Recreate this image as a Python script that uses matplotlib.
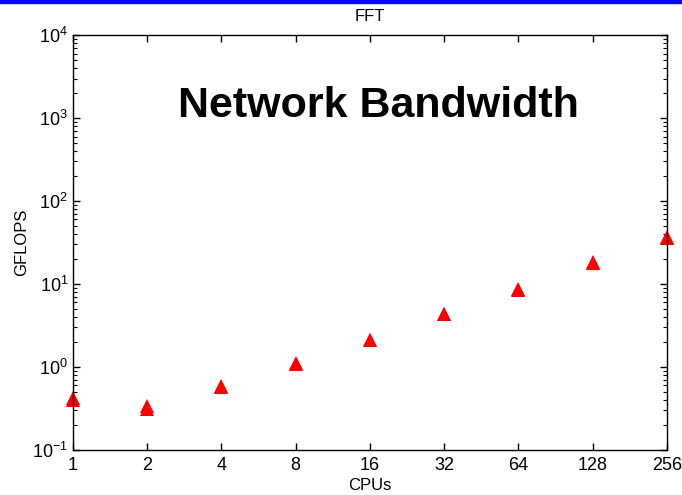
import matplotlib.pyplot as plt
from matplotlib.ticker import FixedLocator, FixedFormatter, LogLocator, NullFormatter, NullLocator

plt.rcParams['font.family'] = ['Liberation Sans', 'DejaVu Sans']
plt.rcParams['mathtext.fontset'] = 'custom'
plt.rcParams['mathtext.rm'] = 'Liberation Sans'
plt.rcParams['mathtext.it'] = 'Liberation Sans'
plt.rcParams['mathtext.bf'] = 'Liberation Sans:bold'

# FFT results, two runs per CPU count (they mostly overlap)
cpus = [1, 2, 4, 8, 16, 32, 64, 128, 256]
gflops_a = [0.42, 0.31, 0.57, 1.10, 2.1, 4.3, 8.5, 18.0, 36.0]
gflops_b = [0.40, 0.34, 0.59, 1.12, 2.1, 4.4, 8.6, 18.5, 36.5]
xtick_labels = ['1', '2', '4', '8', '16', '32', '64', '128', '256']


def main():
    fig = plt.figure(figsize=(6.82, 4.95), dpi=100)
    # blue strip along the top of the slide
    fig.patches.append(plt.Rectangle((0, 0.994), 1, 0.006, transform=fig.transFigure,
                                     color='#0000ee', zorder=10))
    ax = fig.add_axes([0.107, 0.091, 0.871, 0.838])

    ax.plot(cpus, gflops_a, '^', color='red', markersize=10, markeredgewidth=0, clip_on=False)
    ax.plot(cpus, gflops_b, '^', color='red', markersize=10, markeredgewidth=0, clip_on=False)

    ax.set_xscale('log', base=2)
    ax.set_yscale('log')
    ax.set_xlim(1, 256)
    ax.set_ylim(0.1, 1e4)

    ax.xaxis.set_major_locator(FixedLocator(cpus))
    ax.xaxis.set_major_formatter(FixedFormatter(xtick_labels))
    ax.xaxis.set_minor_locator(NullLocator())
    ax.yaxis.set_major_locator(LogLocator(base=10, numticks=10))
    ax.yaxis.set_minor_locator(LogLocator(base=10, subs=range(2, 10), numticks=10))
    ax.yaxis.set_minor_formatter(NullFormatter())

    ax.tick_params(which='both', direction='in', top=True, right=True, labelsize=13)
    ax.tick_params(which='major', length=5, width=1)
    ax.tick_params(which='minor', length=3, width=0.8)
    ax.tick_params(axis='x', pad=5)
    for s in ax.spines.values():
        s.set_linewidth(1)

    ax.set_title('FFT', fontsize=12, pad=10)
    ax.set_xlabel('CPUs', fontsize=12, labelpad=3)
    ax.set_ylabel('GFLOPS', fontsize=12, labelpad=2)

    ax.text(0.515, 0.83, 'Network Bandwidth', transform=ax.transAxes, ha='center', va='center',
            fontsize=31, fontweight='bold')

    fig.savefig('out.png', dpi=100)


main()
